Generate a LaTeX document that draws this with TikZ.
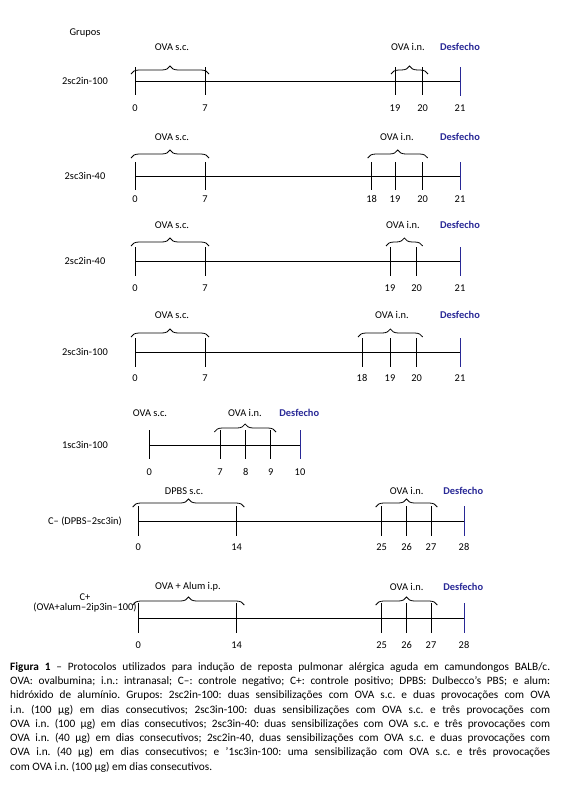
\documentclass[tikz,border=0pt]{standalone}
\usepackage{fontspec}
\setmainfont{Carlito}
\usetikzlibrary{decorations.pathreplacing}
\definecolor{fimazul}{RGB}{40,40,150}

\tikzset{
  txt/.style={font=\fontsize{10.4}{10.5}\selectfont,inner sep=0pt},
  grp/.style={txt,align=center},
  dia/.style={txt},
  fim/.style={txt,font=\fontsize{10.4}{10.5}\selectfont\bfseries,text=fimazul},
  traco/.style={line width=0.8pt},
  marca/.style={line width=0.8pt},
  chave/.style={decorate,decoration={brace,amplitude=8pt},line width=0.8pt}
}

\begin{document}
\begin{tikzpicture}[x=1pt,y=-1pt]
  \useasboundingbox (0,0) rectangle (562,798);
  \node (grupos) at (85,33) [txt] {Grupos};

  % 2sc2in-100
  \node (g1) at (85,81) [grp] {2sc2in-100};
  \coordinate (l1a) at (135,81);
  \coordinate (l1b) at (460,81);
  \draw[traco] (l1a) -- (l1b);
  \foreach \d/\x in {0/135,7/205,19/395,20/422.7}
    {\draw[marca] (\x,67) -- (\x,95);
     \node (a\d) at (\x,108) [dia] {\d};}
  \draw[marca,fimazul] (460,67) -- (460,96);
  \node (a21) at (460,108) [dia] {21};
  \draw[chave] (131,74) -- (209,74);
  \draw[chave] (391,74) -- (428,74);
  \node (a-sc) at (172,47) [txt] {OVA s.c.};
  \node (a-in) at (408,47) [txt] {OVA i.n.};
  \node (a-fim) at (460,47) [fim] {Desfecho};

  % 2sc3in-40
  \node (g2) at (85,176) [grp] {2sc3in-40};
  \coordinate (l2a) at (135,176);
  \coordinate (l2b) at (460,176);
  \draw[traco] (l2a) -- (l2b);
  \foreach \d/\x in {0/135,7/205,18/371.7,19/395,20/422.7}
    {\draw[marca] (\x,162) -- (\x,190);
     \node (b\d) at (\x,199) [dia] {\d};}
  \draw[marca,fimazul] (460,162) -- (460,190);
  \node (b21) at (460,199) [dia] {21};
  \draw[chave] (131,158) -- (209,158);
  \draw[chave] (367.7,158) -- (427.7,158);
  \node (b-sc) at (172,137) [txt] {OVA s.c.};
  \node (b-in) at (397,137) [txt] {OVA i.n.};
  \node (b-fim) at (460,137) [fim] {Desfecho};

  % 2sc2in-40
  \node (g3) at (85,261) [grp] {2sc2in-40};
  \coordinate (l3a) at (135,261);
  \coordinate (l3b) at (460,261);
  \draw[traco] (l3a) -- (l3b);
  \foreach \d/\x in {0/135,7/205,19/390,20/416.7}
    {\draw[marca] (\x,247) -- (\x,276);
     \node (c\d) at (\x,288) [dia] {\d};}
  \draw[marca,fimazul] (460,247) -- (460,276);
  \node (c21) at (460,288) [dia] {21};
  \draw[chave] (131,246) -- (209,246);
  \draw[chave] (386,246) -- (422.7,246);
  \node (c-sc) at (172,225) [txt] {OVA s.c.};
  \node (c-in) at (403,225) [txt] {OVA i.n.};
  \node (c-fim) at (460,225) [fim] {Desfecho};

  % 2sc3in-100
  \node (g4) at (85,352) [grp] {2sc3in-100};
  \coordinate (l4a) at (135,352);
  \coordinate (l4b) at (460,352);
  \draw[traco] (l4a) -- (l4b);
  \foreach \d/\x in {0/135,7/205,18/362,19/390,20/416.7}
    {\draw[marca] (\x,338) -- (\x,367);
     \node (d\d) at (\x,378) [dia] {\d};}
  \draw[marca,fimazul] (460,338) -- (460,367);
  \node (d21) at (460,378) [dia] {21};
  \draw[chave] (131,337) -- (209,337);
  \draw[chave] (358,337) -- (422.7,337);
  \node (d-sc) at (172,315) [txt] {OVA s.c.};
  \node (d-in) at (392,315) [txt] {OVA i.n.};
  \node (d-fim) at (460,315) [fim] {Desfecho};

  % 1sc3in-100
  \node (g5) at (85,445) [grp] {1sc3in-100};
  \coordinate (l5a) at (149.3,445);
  \coordinate (l5b) at (300,445);
  \draw[traco] (l5a) -- (l5b);
  \foreach \d/\x in {0/149.3,7/220,8/245.7,9/270.7}
    {\draw[marca] (\x,430) -- (\x,459);
     \node (e\d) at (\x,472) [dia] {\d};}
  \draw[marca,fimazul] (300,430) -- (300,459);
  \node (e10) at (300,472) [dia] {10};
  \draw[chave] (214.3,432) -- (276,432);
  \node (e-sc) at (150,413) [txt] {OVA s.c.};
  \node (e-in) at (245,413) [txt] {OVA i.n.};
  \node (e-fim) at (299.3,413) [fim] {Desfecho};

  % C- (DPBS-2sc3in)
  \node (g6) at (85,521) [grp] {C– (DPBS–2sc3in)};
  \coordinate (l6a) at (138.3,521);
  \coordinate (l6b) at (464,521);
  \draw[traco] (l6a) -- (l6b);
  \foreach \d/\x in {0/138.3,14/236.7,25/381.7,26/406.7,27/431}
    {\draw[marca] (\x,506) -- (\x,536);
     \node (f\d) at (\x,547) [dia] {\d};}
  \draw[marca,fimazul] (464,506) -- (464,536);
  \node (f28) at (464,547) [dia] {28};
  \draw[chave] (132.7,507) -- (244.3,507);
  \draw[chave] (375.7,507) -- (437.3,507);
  \node (f-sc) at (184,491) [txt] {DPBS s.c.};
  \node (f-in) at (406.7,491) [txt] {OVA i.n.};
  \node (f-fim) at (463.3,491) [fim] {Desfecho};

  % C+ (OVA+alum-2ip3in-100)
  \node (g7) at (85,603) [grp] {C+\\(OVA+alum–2ip3in–100)};
  \coordinate (l7a) at (138.3,618);
  \coordinate (l7b) at (464,618);
  \draw[traco] (l7a) -- (l7b);
  \foreach \d/\x in {0/138.3,14/236.7,25/381.7,26/406.7,27/431}
    {\draw[marca] (\x,603) -- (\x,633);
     \node (h\d) at (\x,645) [dia] {\d};}
  \draw[marca,fimazul] (464,603) -- (464,633);
  \node (h28) at (464,645) [dia] {28};
  \draw[chave] (132.7,605) -- (244.3,605);
  \draw[chave] (375.7,605) -- (437.3,605);
  \node (h-ip) at (188,587) [txt] {OVA + Alum i.p.};
  \node (h-in) at (406.7,587) [txt] {OVA i.n.};
  \node (h-fim) at (463.3,587) [fim] {Desfecho};

  % legenda
  \node (legenda) at (10,662) [anchor=north west,inner sep=0pt,text width=540pt,align=justify,
    font=\fontsize{11.3}{14.3}\selectfont\frenchspacing]
    {\textbf{Figura 1} – Protocolos utilizados para indução de reposta pulmonar alérgica aguda em camundongos BALB/c.\linebreak
     OVA: ovalbumina; i.n.: intranasal; C–: controle negativo; C+: controle positivo; DPBS: Dulbecco’s PBS; e alum:\linebreak
     hidróxido de alumínio. Grupos: 2sc2in-100: duas sensibilizações com OVA s.c. e duas provocações com OVA\linebreak
     i.n. (100 µg) em dias consecutivos; 2sc3in-100: duas sensibilizações com OVA s.c. e três provocações com\linebreak
     OVA i.n. (100 µg) em dias consecutivos; 2sc3in-40: duas sensibilizações com OVA s.c. e três provocações com\linebreak
     OVA i.n. (40 µg) em dias consecutivos; 2sc2in-40, duas sensibilizações com OVA s.c. e duas provocações com\linebreak
     OVA i.n. (40 µg) em dias consecutivos; e ’1sc3in-100: uma sensibilização com OVA s.c. e três provocações\linebreak
     com OVA i.n. (100 µg) em dias consecutivos.};
\end{tikzpicture}
\end{document}
